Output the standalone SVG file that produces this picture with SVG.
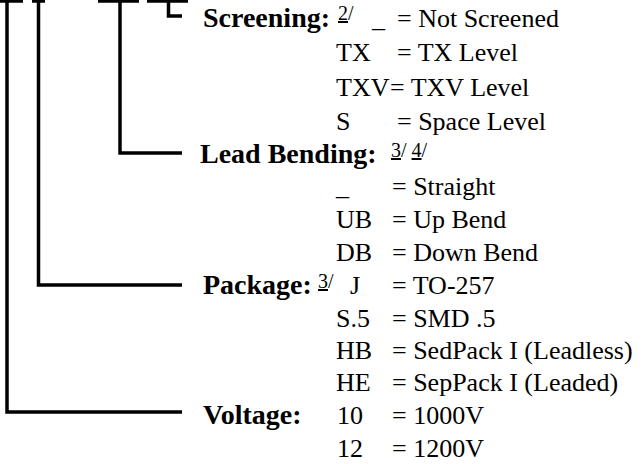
<svg xmlns="http://www.w3.org/2000/svg" width="644" height="464" viewBox="0 0 644 464">
<style>
.c{fill:none;stroke:#000;stroke-width:3.5;stroke-linecap:butt;stroke-linejoin:miter}
.lbl{font-family:"Liberation Serif","Times New Roman",serif;font-weight:bold;font-size:28px;fill:#000}
.t{font-family:"Liberation Serif","Times New Roman",serif;font-size:26px;fill:#000}
.sup{font-family:"Liberation Serif","Times New Roman",serif;font-size:20px;fill:#000}
.u{text-decoration:underline}
</style>
<rect width="644" height="464" fill="#fff"/>
<g id="connectors">
<path class="c" d="M0,1H23M32,1H45M98,1H139M147,1H188"/>
<path class="c" d="M7,0V412H182"/>
<path class="c" d="M38.5,0V285H182"/>
<path class="c" d="M120,0V153H182"/>
<path class="c" d="M168.5,0V16H182"/>
</g>
<g id="screening">
<text class="lbl" x="203" y="27">Screening:</text>
<text class="sup" x="338" y="20"><tspan class="u">2</tspan>/</text>
<text class="t" x="372" y="27">_</text>
<text class="t" x="397" y="27">= Not Screened</text>
<text class="t" x="336" y="61">TX</text>
<text class="t" x="397" y="61">= TX Level</text>
<text class="t" x="336" y="96">TXV</text>
<text class="t" x="390" y="96">= TXV Level</text>
<text class="t" x="336" y="130">S</text>
<text class="t" x="397" y="130">= Space Level</text>
</g>
<g id="lead-bending">
<text class="lbl" x="200" y="163">Lead Bending:</text>
<text class="sup" x="391" y="157"><tspan class="u">3</tspan>/ <tspan class="u">4</tspan>/</text>
<text class="t" x="336" y="195">_</text>
<text class="t" x="392" y="195">= Straight</text>
<text class="t" x="336" y="228">UB</text>
<text class="t" x="392" y="228">= Up Bend</text>
<text class="t" x="336" y="261">DB</text>
<text class="t" x="392" y="261">= Down Bend</text>
</g>
<g id="package">
<text class="lbl" x="203" y="294">Package:</text>
<text class="sup" x="318" y="288"><tspan class="u">3</tspan>/</text>
<text class="t" x="350" y="294">J</text>
<text class="t" x="392" y="294">= TO-257</text>
<text class="t" x="336" y="327">S.5</text>
<text class="t" x="392" y="327">= SMD .5</text>
<text class="t" x="336" y="359">HB</text>
<text class="t" x="392" y="359">= SedPack I (Leadless)</text>
<text class="t" x="336" y="391">HE</text>
<text class="t" x="392" y="391">= SepPack I (Leaded)</text>
</g>
<g id="voltage">
<text class="lbl" x="203" y="424">Voltage:</text>
<text class="t" x="337" y="424">10</text>
<text class="t" x="392" y="424">= 1000V</text>
<text class="t" x="337" y="457">12</text>
<text class="t" x="392" y="457">= 1200V</text>
</g>
</svg>
